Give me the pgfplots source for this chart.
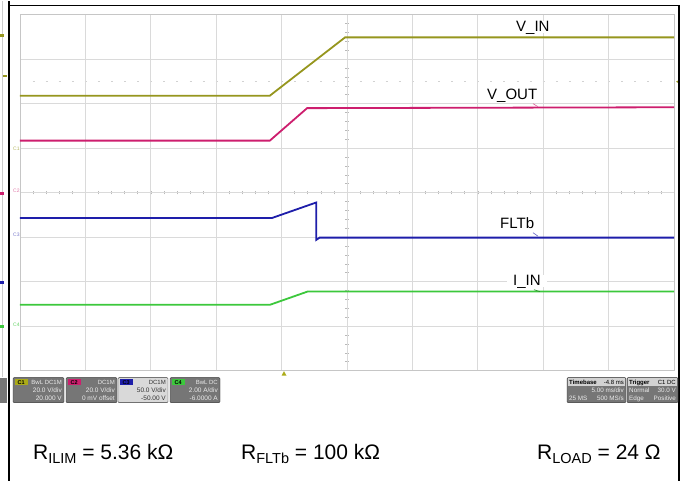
\documentclass[border=0pt]{standalone}
\usepackage{fontspec}
\setmainfont{Liberation Sans}
\usepackage{pgfplots}
\pgfplotsset{compat=1.18}
\definecolor{vin}{RGB}{150,150,30}
\definecolor{vout}{RGB}{205,30,110}
\definecolor{flt}{RGB}{30,30,170}
\definecolor{iin}{RGB}{60,200,60}
\definecolor{gridc}{RGB}{218,218,218}
\definecolor{boxc}{RGB}{118,118,118}
\definecolor{boxt}{RGB}{235,235,235}

% channel box: x1, x2, tag colour, tag, row1, row2, row3, fill, text colour
\newcommand\chbox[9]{%
  \draw[fill=#8, draw=gray!40!black, rounded corners=1pt] (#1,78) rectangle (#2,103);
  \fill[#3] (#1+1.5,95.5) rectangle (#1+15,101.5);
  \node[font=\fontsize{5.5}{5.5}\selectfont\bfseries, text=black, inner sep=0] at (#1+8.2,98.5) {#4};
  \node[font=\fontsize{6}{6}\selectfont, text=#9, anchor=base east, inner sep=0] at (#2-2,96) {#5};
  \node[font=\fontsize{6.5}{6.5}\selectfont, text=#9, anchor=base east, inner sep=0] at (#2-2,88) {#6};
  \node[font=\fontsize{6.5}{6.5}\selectfont, text=#9, anchor=base east, inner sep=0] at (#2-2,80.5) {#7};
}
% info box with light header row
\newcommand\infobox[8]{%
  \draw[fill=boxc, draw=gray!40!black, rounded corners=1pt] (#1,78) rectangle (#2,103);
  \fill[gray!35] (#1+0.7,94.5) rectangle (#2-0.7,102.3);
  \node[font=\fontsize{6}{6}\selectfont\bfseries, anchor=base west, inner sep=0] at (#1+2,96.3) {#3};
  \node[font=\fontsize{6}{6}\selectfont, anchor=base east, inner sep=0] at (#2-2,96.3) {#4};
  \node[font=\fontsize{6.3}{6.3}\selectfont, text=boxt, anchor=base east, inner sep=0] at (#2-2,88) {#5};
  \node[font=\fontsize{6.3}{6.3}\selectfont, text=boxt, anchor=base west, inner sep=0] at (#1+2,80.5) {#6};
  \node[font=\fontsize{6.3}{6.3}\selectfont, text=boxt, anchor=base east, inner sep=0] at (#2-2,80.5) {#7};
  \node[font=\fontsize{6.3}{6.3}\selectfont, text=boxt, anchor=base west, inner sep=0] at (#1+2,88) {#8};
}

\begin{document}
\begin{tikzpicture}[x=1pt,y=1pt]
\fill[white] (0,0) rectangle (683,480);

% centre graticule ticks and trigger level (1 div = 65.4 x 44.5)
\foreach \i in {1,...,49} \draw[gray!55, line width=0.6pt] (20+13.08*\i,286.3) -- (20+13.08*\i,289.7);
\foreach \j in {1,...,39} \draw[gray!55, line width=0.6pt] (345.3,110+8.9*\j) -- (348.7,110+8.9*\j);
\foreach \i in {1,...,49} \draw[gray!35, line width=0.7pt] (19.5+13.08*\i,399) -- (21.5+13.08*\i,399);

\begin{axis}[at={(20pt,110pt)}, anchor=south west, scale only axis,
  width=654pt, height=356pt,
  xmin=0, xmax=10, ymin=0, ymax=8,
  xtick={0,...,10}, ytick={0,...,8},
  xticklabels={}, yticklabels={}, major tick length=0pt,
  grid=major, grid style={gridc, line width=0.7pt},
  axis line style={gray!45, line width=0.9pt}]
\addplot[vin, line width=1.8pt] coordinates {(0,6.18) (3.82,6.18) (4.97,7.49) (10,7.49)};
\addplot[vout, line width=1.8pt] coordinates {(0,5.17) (3.82,5.17) (4.39,5.90) (10,5.92)};
\addplot[flt, line width=1.8pt] coordinates {(0,3.43) (3.85,3.43) (4.53,3.78) (4.53,2.94) (4.58,2.99) (10,2.99)};
\addplot[iin, line width=1.8pt] coordinates {(0,1.48) (3.82,1.48) (4.40,1.78) (10,1.78)};
\end{axis}

% trace labels
\begin{scope}[every node/.style={font=\fontsize{15}{15}\selectfont, fill=white, inner xsep=6pt, inner ysep=0.5pt, text depth=1pt, anchor=base west}]
\node at (510,449) {V\_IN};
\node at (481,381) {V\_OUT};
\node at (494,252) {FLTb};
\node at (507,195) {I\_IN};
\end{scope}
\draw[vout!70, line width=0.6pt] (533,377) -- (538,374);
\draw[flt!70, line width=0.6pt] (533,248) -- (538,244.5);
\draw[iin!70!black, line width=0.6pt] (534,191) -- (540,189);

% ground markers inside the grid
\node[font=\fontsize{5}{5}\selectfont, text=vin!70, anchor=west, inner sep=0] at (13,332) {C1};
\node[font=\fontsize{5}{5}\selectfont, text=vout!60, anchor=west, inner sep=0] at (13,290) {C2};
\node[font=\fontsize{5}{5}\selectfont, text=flt!60, anchor=west, inner sep=0] at (13,246) {C3};
\node[font=\fontsize{5}{5}\selectfont, text=iin!80, anchor=west, inner sep=0] at (13,156) {C4};

% trigger markers
\fill[vin!80!yellow] (281.5,105) -- (286.5,105) -- (284,109.5) -- cycle;
\fill[vin] (679.5,397) -- (679.5,401) -- (676,399) -- cycle;

% left strip
\draw[gray!40, line width=0.6pt] (2.5,104) -- (2.5,480);
\fill[vin] (0,444) rectangle (4,446.5);
\fill[vin] (3,403.5) rectangle (7,406);
\fill[vout] (0,286) rectangle (4,288.5);
\fill[flt] (0,197) rectangle (4,199.5);
\fill[iin] (0,153) rectangle (4,155.5);
\fill[boxc] (0,78) rectangle (7,103);

% frame
\draw[black, line width=1.4pt] (9,0) -- (9,480);
\draw[black, line width=1.4pt] (9,475) -- (679,475) -- (679,0);

% channel boxes
\chbox{13}{64}{vin!80!yellow}{C1}{BwL DC1M}{20.0 V/div}{20.000 V}{boxc}{boxt}
\chbox{66}{117}{vout}{C2}{DC1M}{20.0 V/div}{0 mV offset}{boxc}{boxt}
\chbox{118}{168}{flt}{C3}{DC1M}{50.0 V/div}{-50.00 V}{gray!30}{black!80}
\chbox{170}{220}{iin}{C4}{BwL DC}{2.00 A/div}{-6.0000 A}{boxc}{boxt}
\infobox{567}{626}{Timebase}{-4.8 ms}{5.00 ms/div}{25 MS}{500 MS/s}{}
\infobox{627}{678}{Trigger}{C1 DC}{30.0 V}{Edge}{Positive}{Normal}

% resistor values
\begin{scope}[every node/.style={font=\fontsize{21}{21}\selectfont, anchor=base west, inner sep=0}]
\node at (33,21) {R\raisebox{-0.2em}{\fontsize{14.5}{14.5}\selectfont ILIM} = 5.36 kΩ};
\node at (241,21) {R\raisebox{-0.2em}{\fontsize{14.5}{14.5}\selectfont FLTb} = 100 kΩ};
\node at (537,21) {R\raisebox{-0.2em}{\fontsize{14.5}{14.5}\selectfont LOAD} = 24 Ω};
\end{scope}
\end{tikzpicture}
\end{document}
